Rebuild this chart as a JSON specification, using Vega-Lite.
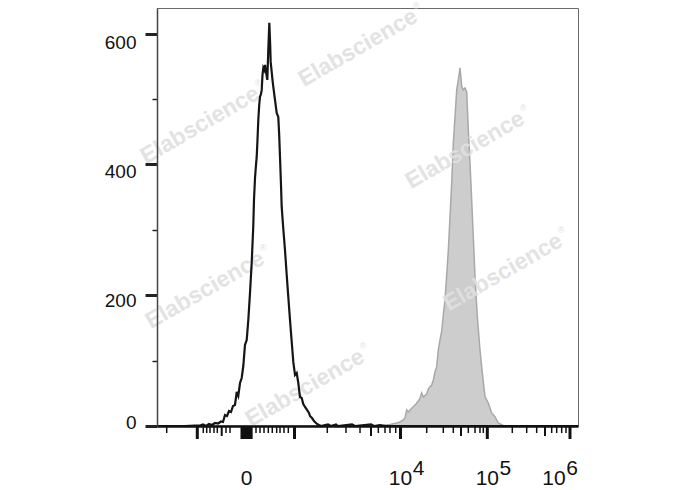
{
  "$schema": "https://vega.github.io/schema/vega-lite/v6.json",
  "autosize": "none",
  "width": 421,
  "height": 418,
  "padding": {"left": 157, "top": 8, "right": 110, "bottom": 64},
  "background": "white",
  "config": {
    "view": {"stroke": "#6a6a6a", "strokeWidth": 1},
    "font": "Liberation Sans"
  },
  "datasets": {
    "neg": [
      {"ch": 0, "count": 0}, {"ch": 31.6, "count": 0}, {"ch": 68.1, "count": 0}, {"ch": 92.4, "count": 0.5},
      {"ch": 104.6, "count": 0.8}, {"ch": 111.9, "count": 2.3}, {"ch": 119.2, "count": 0}, {"ch": 126.5, "count": 3.1},
      {"ch": 133.8, "count": 1.5}, {"ch": 141.1, "count": 4.6}, {"ch": 148.4, "count": 3.8}, {"ch": 155.7, "count": 6.9},
      {"ch": 160.5, "count": 6.1}, {"ch": 165.4, "count": 16.8}, {"ch": 170.3, "count": 15.3}, {"ch": 175.1, "count": 22.9},
      {"ch": 180.0, "count": 21.4}, {"ch": 184.9, "count": 30.6}, {"ch": 189.7, "count": 32.1}, {"ch": 193.9, "count": 52.0},
      {"ch": 197.7, "count": 45.9}, {"ch": 201.9, "count": 65.7}, {"ch": 206.0, "count": 73.4}, {"ch": 209.9, "count": 91.7},
      {"ch": 214.0, "count": 123.9}, {"ch": 218.2, "count": 131.5}, {"ch": 222.1, "count": 162.1}, {"ch": 226.2, "count": 203.4},
      {"ch": 230.3, "count": 249.2}, {"ch": 234.2, "count": 305.8}, {"ch": 235.9, "count": 345.6}, {"ch": 238.4, "count": 379.2},
      {"ch": 240.8, "count": 399.1}, {"ch": 242.5, "count": 411.3}, {"ch": 244.4, "count": 437.3}, {"ch": 246.4, "count": 467.9},
      {"ch": 248.6, "count": 490.8}, {"ch": 250.5, "count": 503.1}, {"ch": 253.0, "count": 507.6}, {"ch": 254.7, "count": 513.8},
      {"ch": 256.6, "count": 536.7}, {"ch": 258.6, "count": 547.4}, {"ch": 260.7, "count": 544.3}, {"ch": 262.7, "count": 552.0},
      {"ch": 265.1, "count": 541.3}, {"ch": 268.3, "count": 529.1}, {"ch": 270.7, "count": 574.9}, {"ch": 273.2, "count": 616.2},
      {"ch": 275.3, "count": 582.6}, {"ch": 276.5, "count": 556.6}, {"ch": 278.5, "count": 544.3}, {"ch": 280.9, "count": 529.1},
      {"ch": 282.9, "count": 518.3}, {"ch": 287.0, "count": 498.5}, {"ch": 291.1, "count": 478.6}, {"ch": 295.0, "count": 472.5},
      {"ch": 297.2, "count": 445.0}, {"ch": 299.2, "count": 411.3}, {"ch": 301.6, "count": 368.5}, {"ch": 303.3, "count": 334.9},
      {"ch": 306.5, "count": 307.3}, {"ch": 311.3, "count": 269.1}, {"ch": 315.5, "count": 230.9}, {"ch": 319.4, "count": 197.2},
      {"ch": 323.5, "count": 162.1}, {"ch": 327.7, "count": 128.4}, {"ch": 331.5, "count": 97.9}, {"ch": 335.7, "count": 78.0},
      {"ch": 339.8, "count": 81.0}, {"ch": 343.7, "count": 65.7}, {"ch": 347.8, "count": 44.3}, {"ch": 352.0, "count": 42.8},
      {"ch": 355.8, "count": 33.6}, {"ch": 360.0, "count": 29.1}, {"ch": 364.8, "count": 24.5}, {"ch": 369.7, "count": 19.9},
      {"ch": 372.1, "count": 15.3}, {"ch": 377.0, "count": 12.2}, {"ch": 381.9, "count": 7.6}, {"ch": 384.3, "count": 6.1},
      {"ch": 389.2, "count": 3.1}, {"ch": 394.0, "count": 1.5}, {"ch": 398.9, "count": 0}, {"ch": 415.9, "count": 2.3},
      {"ch": 423.2, "count": 0}, {"ch": 435.4, "count": 2.3}, {"ch": 440.2, "count": 0}, {"ch": 474.3, "count": 2.3},
      {"ch": 481.5, "count": 0}, {"ch": 520.5, "count": 2.3}, {"ch": 527.8, "count": 0}, {"ch": 542.4, "count": 1.5},
      {"ch": 554.6, "count": 0}, {"ch": 1024, "count": 0}
    ],
    "pos": [
      {"ch": 0, "count": 0}, {"ch": 518.1, "count": 0}, {"ch": 542.4, "count": 0.8}, {"ch": 566.7, "count": 2.3},
      {"ch": 583.0, "count": 4.6}, {"ch": 591.0, "count": 6.1}, {"ch": 599.0, "count": 9.2}, {"ch": 603.2, "count": 12.2},
      {"ch": 607.3, "count": 24.5}, {"ch": 611.2, "count": 21.4}, {"ch": 615.4, "count": 24.5}, {"ch": 623.4, "count": 29.5},
      {"ch": 630.0, "count": 33.6}, {"ch": 635.6, "count": 38.2}, {"ch": 639.7, "count": 42.8}, {"ch": 643.8, "count": 50.5},
      {"ch": 647.7, "count": 44.3}, {"ch": 656.0, "count": 48.9}, {"ch": 659.9, "count": 56.6}, {"ch": 664.0, "count": 60.1},
      {"ch": 668.2, "count": 62.7}, {"ch": 672.1, "count": 70.3}, {"ch": 676.2, "count": 82.6}, {"ch": 680.3, "count": 90.7},
      {"ch": 684.2, "count": 116.2}, {"ch": 688.4, "count": 131.5}, {"ch": 692.5, "count": 145.3}, {"ch": 696.4, "count": 169.7},
      {"ch": 700.5, "count": 192.7}, {"ch": 704.7, "count": 230.9}, {"ch": 708.6, "count": 269.1}, {"ch": 712.7, "count": 320.0},
      {"ch": 716.8, "count": 371.1}, {"ch": 720.7, "count": 432.3}, {"ch": 724.9, "count": 473.0}, {"ch": 729.0, "count": 513.8},
      {"ch": 732.9, "count": 529.1}, {"ch": 737.0, "count": 547.4}, {"ch": 741.2, "count": 518.8}, {"ch": 745.0, "count": 513.8},
      {"ch": 749.2, "count": 516.8}, {"ch": 753.3, "count": 510.7}, {"ch": 754.8, "count": 488.2}, {"ch": 757.2, "count": 452.6},
      {"ch": 761.3, "count": 402.1}, {"ch": 765.4, "count": 345.6}, {"ch": 769.3, "count": 289.4}, {"ch": 773.5, "count": 228.3},
      {"ch": 779.1, "count": 167.1}, {"ch": 785.6, "count": 116.2}, {"ch": 792.2, "count": 75.4}, {"ch": 797.8, "count": 44.8},
      {"ch": 805.8, "count": 35.2}, {"ch": 814.1, "count": 19.9}, {"ch": 822.1, "count": 14.2}, {"ch": 830.1, "count": 4.6},
      {"ch": 842.3, "count": 0.8}, {"ch": 858.6, "count": 0}, {"ch": 1024, "count": 0}
    ],
    "wm": [
      {"ch": 488.9, "count": 578, "t": "Elabscience"},
      {"ch": 104.6, "count": 460, "t": "Elabscience"},
      {"ch": 749.1, "count": 422, "t": "Elabscience"},
      {"ch": 841.6, "count": 235, "t": "Elabscience"},
      {"ch": 116.8, "count": 208, "t": "Elabscience"},
      {"ch": 360.0, "count": 58, "t": "Elabscience"}
    ],
    "xlab": [
      {"ch": 217.7, "base": "0", "exp": ""},
      {"ch": 592.3, "base": "10", "exp": "4"},
      {"ch": 803.4, "base": "10", "exp": "5"},
      {"ch": 1004.5, "base": "10", "exp": "6"}
    ],
    "xticks": [
      {"ch": 23.6, "kind": "minor"}, {"ch": 98.0, "kind": "major"}, {"ch": 112.6, "kind": "minor"}, {"ch": 120.9, "kind": "minor"},
      {"ch": 128.9, "kind": "minor"}, {"ch": 138.6, "kind": "minor"}, {"ch": 146.7, "kind": "minor"}, {"ch": 157.4, "kind": "medium"},
      {"ch": 167.8, "kind": "minor"}, {"ch": 177.6, "kind": "minor"},
      {"ch": 206.7, "kind": "zero"}, {"ch": 209.0, "kind": "zero"}, {"ch": 211.3, "kind": "zero"}, {"ch": 213.6, "kind": "zero"},
      {"ch": 215.9, "kind": "zero"}, {"ch": 218.2, "kind": "zero"}, {"ch": 220.5, "kind": "zero"}, {"ch": 222.8, "kind": "zero"},
      {"ch": 225.1, "kind": "zero"}, {"ch": 227.4, "kind": "zero"}, {"ch": 229.0, "kind": "zero"},
      {"ch": 240.8, "kind": "minor"}, {"ch": 250.5, "kind": "minor"}, {"ch": 260.3, "kind": "minor"}, {"ch": 270.7, "kind": "minor"},
      {"ch": 280.4, "kind": "minor"}, {"ch": 291.1, "kind": "minor"}, {"ch": 299.2, "kind": "minor"}, {"ch": 308.9, "kind": "minor"},
      {"ch": 319.4, "kind": "minor"}, {"ch": 334.4, "kind": "major"},
      {"ch": 414.2, "kind": "minor"}, {"ch": 459.7, "kind": "minor"}, {"ch": 493.8, "kind": "minor"}, {"ch": 520.5, "kind": "medium"},
      {"ch": 538.3, "kind": "minor"}, {"ch": 554.6, "kind": "minor"}, {"ch": 566.7, "kind": "minor"}, {"ch": 580.6, "kind": "minor"},
      {"ch": 592.3, "kind": "major"},
      {"ch": 656.0, "kind": "minor"}, {"ch": 696.4, "kind": "minor"}, {"ch": 720.7, "kind": "minor"}, {"ch": 739.4, "kind": "medium"},
      {"ch": 757.2, "kind": "minor"}, {"ch": 773.5, "kind": "minor"}, {"ch": 785.6, "kind": "minor"}, {"ch": 793.7, "kind": "minor"},
      {"ch": 803.4, "kind": "major"},
      {"ch": 864.2, "kind": "minor"}, {"ch": 899.2, "kind": "minor"}, {"ch": 923.5, "kind": "minor"}, {"ch": 943.7, "kind": "medium"},
      {"ch": 960.0, "kind": "minor"}, {"ch": 972.2, "kind": "minor"}, {"ch": 984.3, "kind": "minor"}, {"ch": 994.8, "kind": "minor"},
      {"ch": 1004.5, "kind": "major"}
    ]
  },
  "layer": [
    {
      "data": {"name": "pos"},
      "mark": {"type": "area", "fill": "#cdcdcd", "stroke": "#a8a8a8", "strokeWidth": 1.5, "interpolate": "linear"},
      "encoding": {
        "x": {
          "field": "ch", "type": "quantitative",
          "scale": {"domain": [0, 1024], "nice": false, "zero": false},
          "axis": {
            "title": null, "labels": false, "ticks": false, "grid": false, "zindex": 1,
            "domainColor": "#111", "domainWidth": 2.5
          }
        },
        "y": {
          "field": "count", "type": "quantitative",
          "scale": {"domain": [0, 639], "nice": false},
          "axis": {
            "title": null, "grid": false, "zindex": 1,
            "values": [0, 50, 100, 150, 200, 250, 300, 350, 400, 450, 500, 550, 600],
            "labelExpr": "datum.value % 200 == 0 ? datum.label : ''",
            "labelFont": "Liberation Sans", "labelFontSize": 19, "labelColor": "#111", "labelPadding": 9,
            "domainColor": "#444", "domainWidth": 1.5, "tickColor": "#222",
            "tickSize": {"condition": {"test": "datum.value % 200 == 0", "value": 12}, "value": 5},
            "tickWidth": {"condition": {"test": "datum.value % 200 == 0", "value": 3}, "value": 1.5},
            "labelOffset": {
              "condition": [
                {"test": "datum.value == 600", "value": 9},
                {"test": "datum.value == 400", "value": 7},
                {"test": "datum.value == 200", "value": 5}
              ],
              "value": -4
            }
          }
        }
      }
    },
    {
      "data": {"name": "wm"},
      "mark": {"type": "text", "angle": -30, "fontSize": 23, "fontWeight": "bold", "font": "Liberation Sans", "color": "#e0e0e0", "opacity": 0.9, "align": "center", "baseline": "middle"},
      "encoding": {
        "x": {"field": "ch", "type": "quantitative"},
        "y": {"field": "count", "type": "quantitative"},
        "text": {"field": "t"}
      }
    },
    {
      "data": {"name": "wm"},
      "mark": {"type": "text", "fontSize": 9, "font": "Liberation Sans", "color": "#e0e0e0", "opacity": 0.9, "align": "center", "baseline": "middle", "dx": 58, "dy": -42},
      "encoding": {
        "x": {"field": "ch", "type": "quantitative"},
        "y": {"field": "count", "type": "quantitative"},
        "text": {"value": "®"}
      }
    },
    {
      "data": {"name": "neg"},
      "mark": {"type": "line", "color": "#151515", "strokeWidth": 2.2, "interpolate": "linear"},
      "encoding": {
        "x": {"field": "ch", "type": "quantitative"},
        "y": {"field": "count", "type": "quantitative"}
      }
    },
    {
      "data": {"name": "xticks"},
      "transform": [{"filter": "datum.kind == 'minor'"}],
      "mark": {"type": "rule", "color": "#111", "strokeWidth": 1.5, "y2Offset": 7},
      "encoding": {
        "x": {"field": "ch", "type": "quantitative"},
        "y": {"datum": 0},
        "y2": {"datum": 0}
      }
    },
    {
      "data": {"name": "xticks"},
      "transform": [{"filter": "datum.kind == 'medium'"}],
      "mark": {"type": "rule", "color": "#111", "strokeWidth": 2, "y2Offset": 10},
      "encoding": {
        "x": {"field": "ch", "type": "quantitative"},
        "y": {"datum": 0},
        "y2": {"datum": 0}
      }
    },
    {
      "data": {"name": "xticks"},
      "transform": [{"filter": "datum.kind == 'major' || datum.kind == 'zero'"}],
      "mark": {"type": "rule", "color": "#111", "strokeWidth": 3, "y2Offset": 13},
      "encoding": {
        "x": {"field": "ch", "type": "quantitative"},
        "y": {"datum": 0},
        "y2": {"datum": 0}
      }
    },
    {
      "data": {"name": "xlab"},
      "transform": [{"filter": "datum.ch < 1000"}],
      "mark": {"type": "text", "fontSize": 21, "font": "Liberation Sans", "color": "#111", "align": "center", "baseline": "alphabetic", "dy": 59},
      "encoding": {
        "x": {"field": "ch", "type": "quantitative"},
        "y": {"datum": 0},
        "text": {"field": "base"}
      }
    },
    {
      "data": {"name": "xlab"},
      "transform": [{"filter": "datum.ch < 1000"}],
      "mark": {"type": "text", "fontSize": 21, "font": "Liberation Sans", "color": "#111", "align": "center", "baseline": "alphabetic", "dx": 18, "dy": 49},
      "encoding": {
        "x": {"field": "ch", "type": "quantitative"},
        "y": {"datum": 0},
        "text": {"field": "exp"}
      }
    },
    {
      "data": {"name": "xlab"},
      "transform": [{"filter": "datum.ch > 1000"}],
      "mark": {"type": "text", "fontSize": 21, "font": "Liberation Sans", "color": "#111", "align": "center", "baseline": "alphabetic", "dx": -16, "dy": 59},
      "encoding": {
        "x": {"field": "ch", "type": "quantitative"},
        "y": {"datum": 0},
        "text": {"field": "base"}
      }
    },
    {
      "data": {"name": "xlab"},
      "transform": [{"filter": "datum.ch > 1000"}],
      "mark": {"type": "text", "fontSize": 21, "font": "Liberation Sans", "color": "#111", "align": "center", "baseline": "alphabetic", "dx": 2, "dy": 49},
      "encoding": {
        "x": {"field": "ch", "type": "quantitative"},
        "y": {"datum": 0},
        "text": {"field": "exp"}
      }
    }
  ]
}
